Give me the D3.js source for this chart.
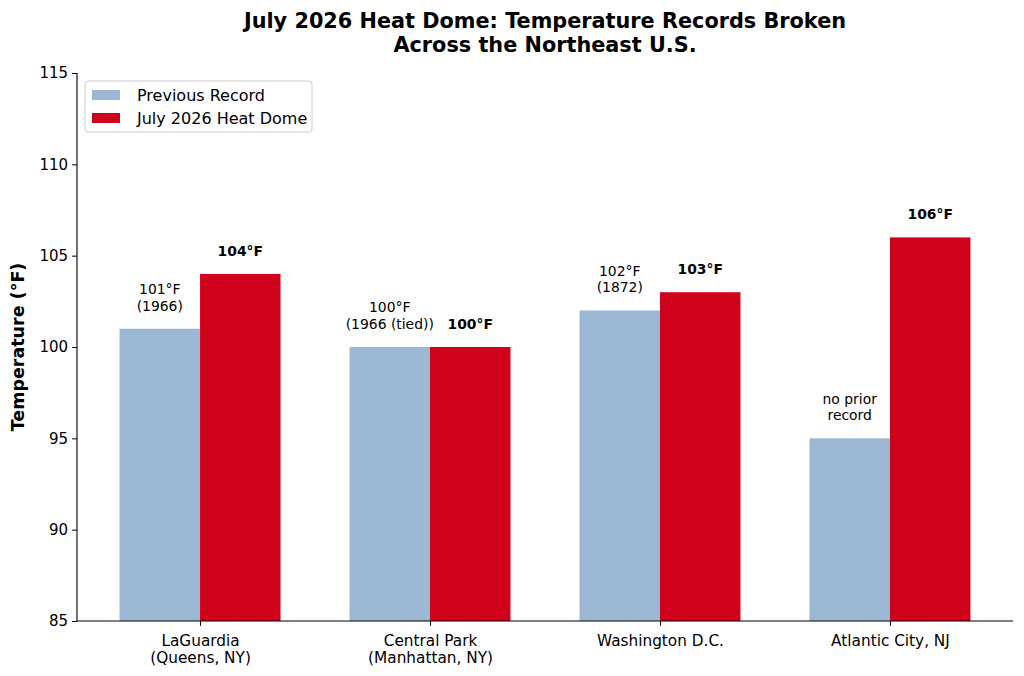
<!DOCTYPE html>
<html>
<head>
<meta charset="utf-8">
<script src="https://cdn.jsdelivr.net/npm/d3@7"></script>
<style>
  body { margin: 0; background: #fff; }
  text { font-family: "DejaVu Sans", sans-serif; }
</style>
</head>
<body>
<svg id="chart" width="1024" height="676"></svg>
<script>
// station labels (two lines each)
const stations = [
  ['LaGuardia', '(Queens, NY)'],
  ['Central Park', '(Manhattan, NY)'],
  ['Washington D.C.'],
  ['Atlantic City, NJ'],
];
const previousRecord = [101, 100, 102, 95];
const previousLabel = [
  ['101°F', '(1966)'],
  ['100°F', '(1966 (tied))'],
  ['102°F', '(1872)'],
  ['no prior', 'record'],
];
const heatDome = [104, 100, 103, 106];
const yTicks = [85, 90, 95, 100, 105, 110, 115];
const seriesNames = ['Previous Record', 'July 2026 Heat Dome'];
const seriesColors = ['#9bb7d4', '#d0021b'];

const svg = d3.select('#chart');
const margin = { left: 77, right: 1013, top: 73, bottom: 621 };

const x = d3.scalePoint()
  .domain(d3.range(stations.length))
  .range([margin.left, margin.right])
  .padding(0.535);
const barW = x.step() * 0.35;

const y = d3.scaleLinear()
  .domain([85, 115])
  .range([margin.bottom, margin.top]);

// bars
const groups = svg.append('g').selectAll('g')
  .data(stations)
  .enter().append('g');

groups.append('rect')
  .attr('x', (d, i) => x(i) - barW)
  .attr('width', barW)
  .attr('y', (d, i) => y(previousRecord[i]))
  .attr('height', (d, i) => y(85) - y(previousRecord[i]))
  .attr('fill', seriesColors[0]);

groups.append('rect')
  .attr('x', (d, i) => x(i))
  .attr('width', barW)
  .attr('y', (d, i) => y(heatDome[i]))
  .attr('height', (d, i) => y(85) - y(heatDome[i]))
  .attr('fill', seriesColors[1]);

// value labels
const fs = 13.9;
groups.append('text')
  .attr('text-anchor', 'middle')
  .attr('font-size', fs)
  .attr('fill', '#000')
  .each(function (d, i) {
    const lines = previousLabel[i];
    const base = y(previousRecord[i] + 0.8) - 3.5;
    d3.select(this).selectAll('tspan')
      .data(lines)
      .enter().append('tspan')
      .attr('x', x(i) - barW / 2)
      .attr('y', (l, j) => base - (lines.length - 1 - j) * 16.7)
      .text(l => l);
  });

groups.append('text')
  .attr('text-anchor', 'middle')
  .attr('font-size', fs)
  .attr('font-weight', 'bold')
  .attr('fill', '#000')
  .attr('x', (d, i) => x(i) + barW / 2)
  .attr('y', (d, i) => y(heatDome[i] + 0.8) - 3.5)
  .text((d, i) => `${heatDome[i]}°F`);

// axes
const yAxis = svg.append('g')
  .attr('transform', `translate(${margin.left},0)`)
  .call(d3.axisLeft(y).tickValues(yTicks).tickSize(4.9).tickPadding(4));
yAxis.selectAll('text').attr('font-size', 15).attr('fill', '#000')
  .attr('font-family', '"DejaVu Sans", sans-serif');
yAxis.select('.domain').attr('d', `M0,${margin.top}V${margin.bottom}`)
  .attr('stroke-width', 1.1);

const xAxis = svg.append('g')
  .attr('transform', `translate(0,${margin.bottom})`)
  .call(d3.axisBottom(x).tickSize(4.9).tickFormat(''));
xAxis.select('.domain').attr('d', `M${margin.left},0H${margin.right}`)
  .attr('stroke-width', 1.1);
xAxis.selectAll('.tick')
  .append('text')
  .attr('fill', '#000')
  .attr('font-size', 15.3)
  .attr('text-anchor', 'middle')
  .attr('font-family', '"DejaVu Sans", sans-serif')
  .each(function (d) {
    d3.select(this).selectAll('tspan')
      .data(stations[d])
      .enter().append('tspan')
      .attr('x', 0)
      .attr('y', (l, j) => 24.5 + j * 17.5)
      .text(l => l);
  });

// y label
svg.append('text')
  .attr('transform', `translate(24,${(margin.top + margin.bottom) / 2}) rotate(-90)`)
  .attr('text-anchor', 'middle')
  .attr('font-size', 17.5)
  .attr('font-weight', 'bold')
  .text('Temperature (°F)');

// title
svg.append('text')
  .attr('text-anchor', 'middle')
  .attr('font-size', 20.8)
  .attr('font-weight', 'bold')
  .selectAll('tspan')
  .data(['July 2026 Heat Dome: Temperature Records Broken', 'Across the Northeast U.S.'])
  .enter().append('tspan')
  .attr('x', (margin.left + margin.right) / 2)
  .attr('y', (d, i) => 27.5 + i * 24)
  .text(d => d);

// legend
const legend = svg.append('g').attr('transform', 'translate(85,81)');
legend.append('rect')
  .attr('width', 227)
  .attr('height', 51)
  .attr('rx', 3)
  .attr('fill', '#fff')
  .attr('fill-opacity', 0.8)
  .attr('stroke', '#cccccc');
const items = legend.selectAll('g.item')
  .data(seriesNames)
  .enter().append('g')
  .attr('transform', (d, i) => `translate(7,${9 + i * 23})`);
items.append('rect')
  .attr('width', 28)
  .attr('height', 10)
  .attr('fill', (d, i) => seriesColors[i]);
items.append('text')
  .attr('x', 45)
  .attr('y', 5)
  .attr('dy', '0.35em')
  .attr('font-size', 16)
  .text(d => d);
</script>
</body>
</html>
